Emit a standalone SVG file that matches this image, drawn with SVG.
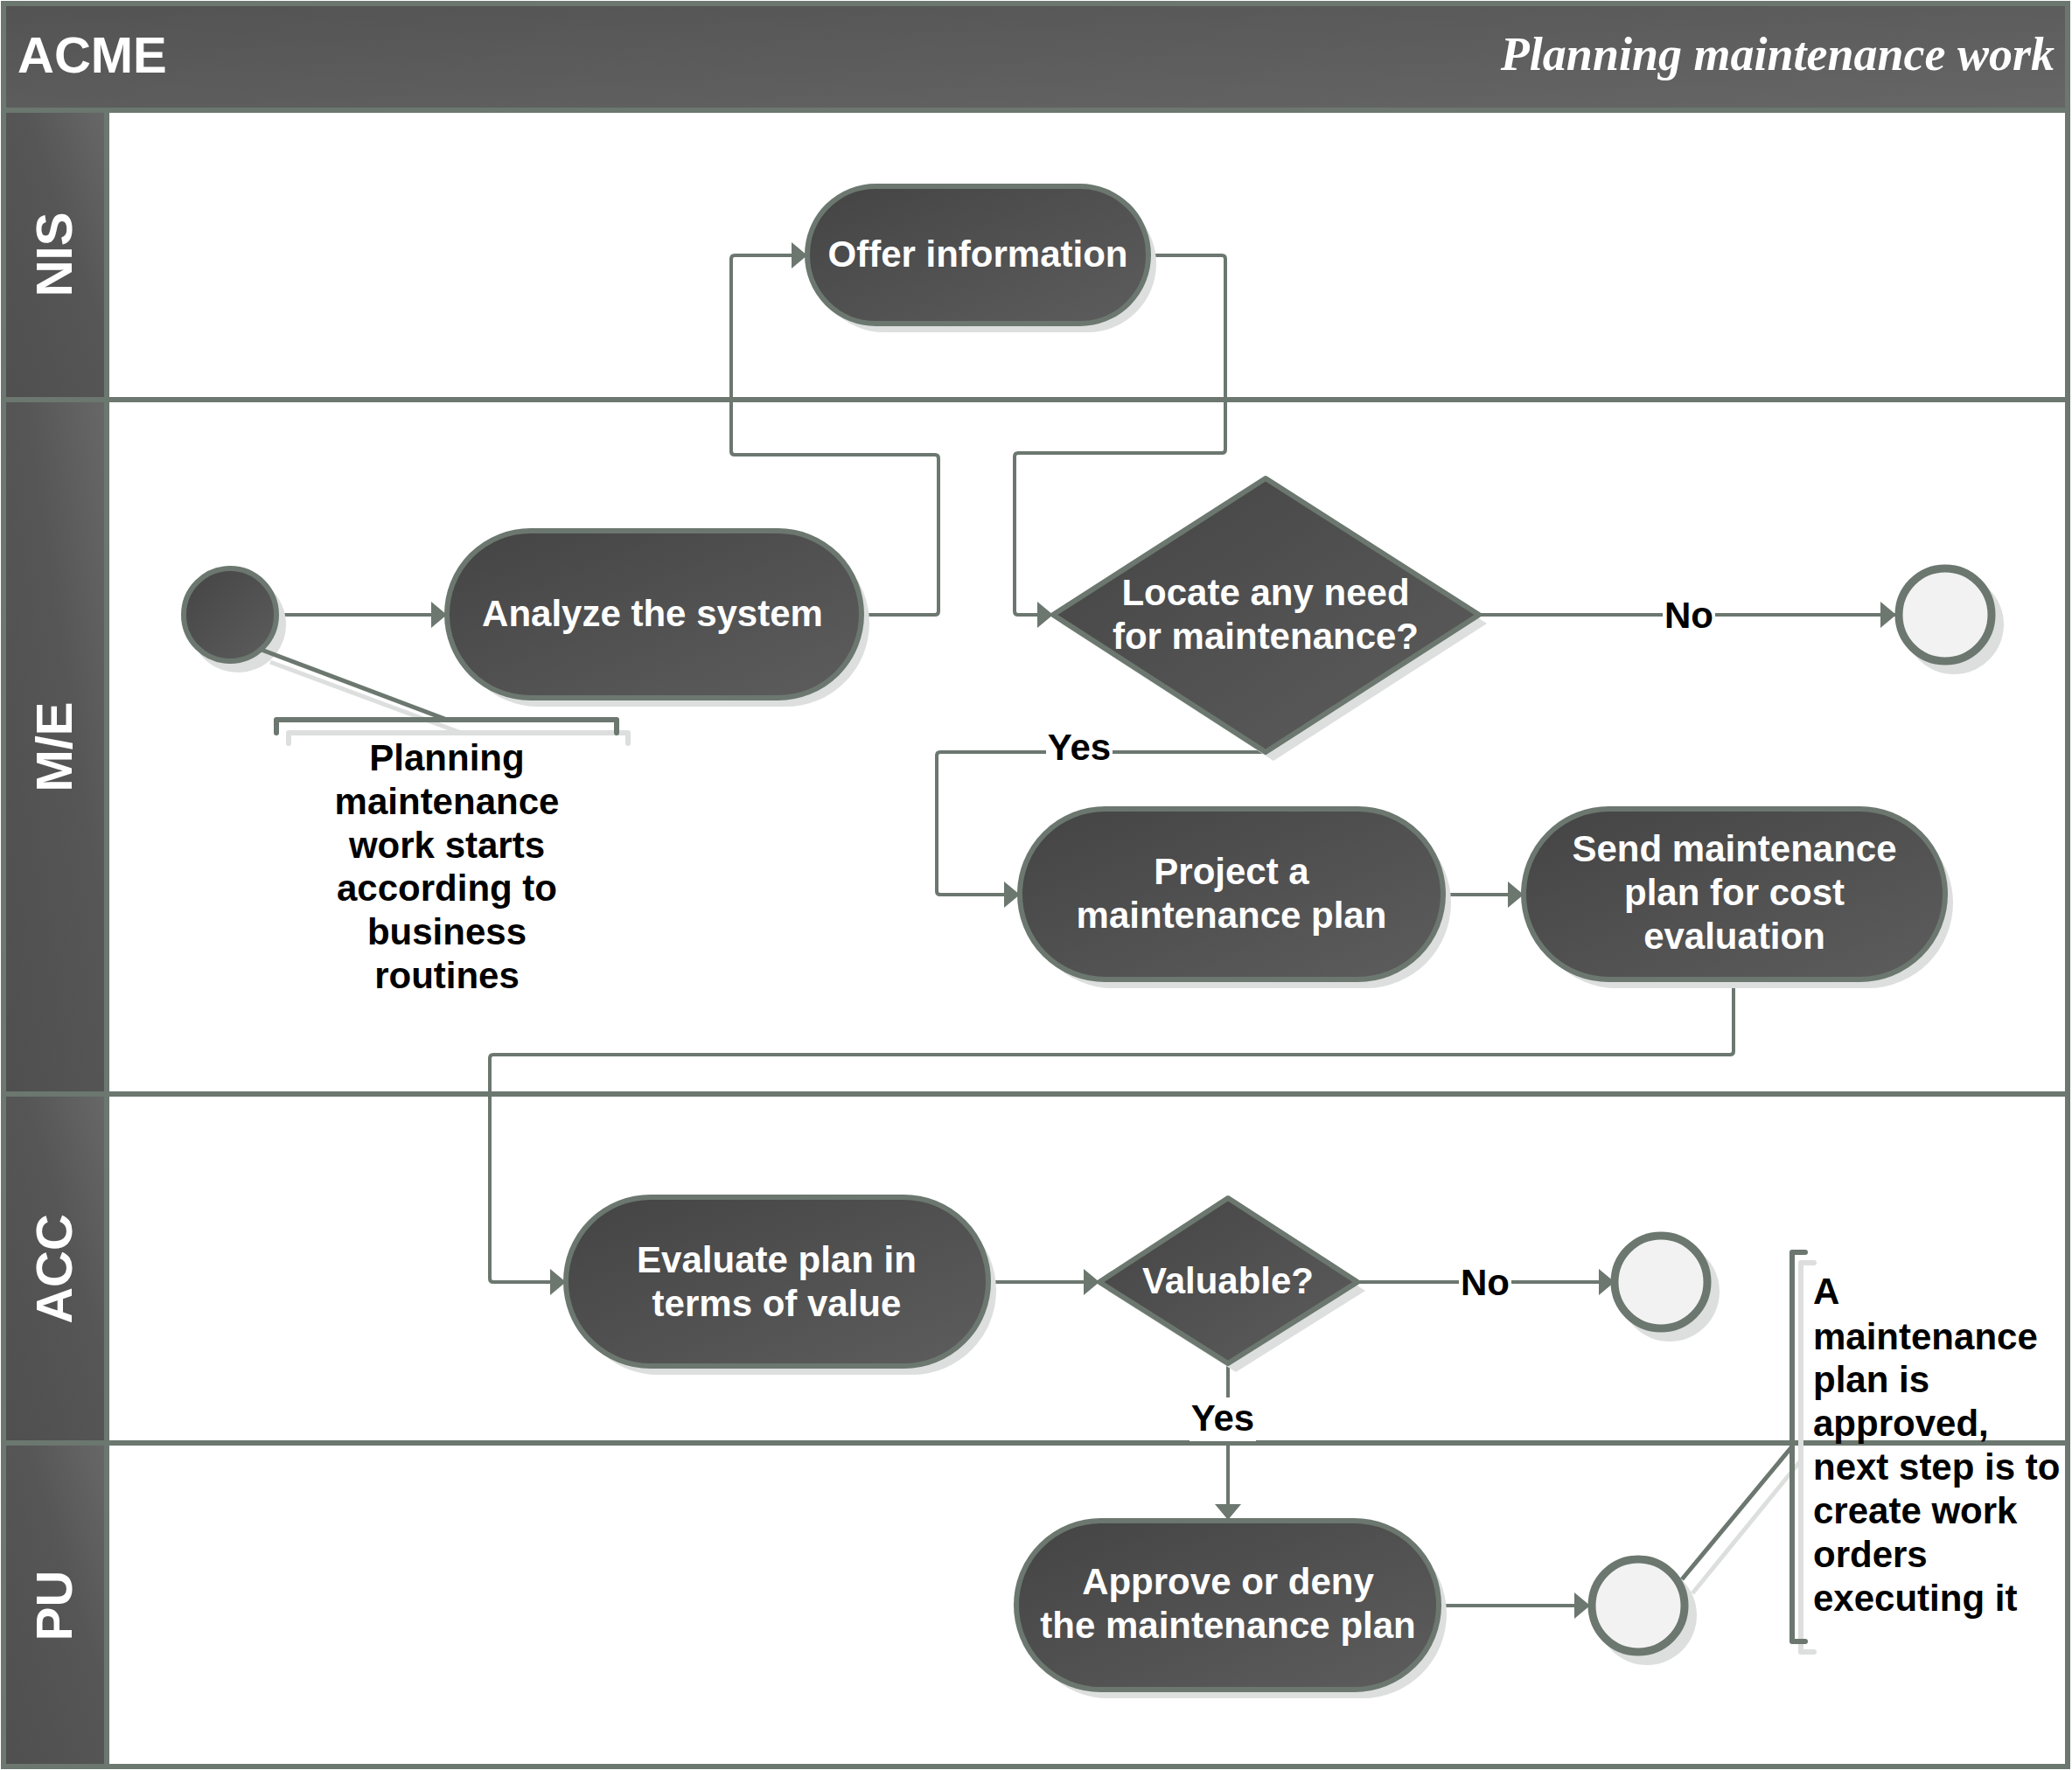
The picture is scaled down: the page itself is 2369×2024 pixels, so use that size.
<svg xmlns="http://www.w3.org/2000/svg" width="2369" height="2024" viewBox="0 0 2369 2024">
<defs>
<linearGradient id="gDark" x1="0" y1="0" x2="1" y2="1">
<stop offset="0" stop-color="#444444"/>
<stop offset="1" stop-color="#5d5d5d"/>
</linearGradient>
<linearGradient id="gBar" x1="0" y1="0" x2="1" y2="1">
<stop offset="0" stop-color="#535353"/>
<stop offset="1" stop-color="#666666"/>
</linearGradient>
<linearGradient id="gLane" x1="0" y1="1" x2="1" y2="0">
<stop offset="0" stop-color="#4f4f4f"/>
<stop offset="0.6" stop-color="#565656"/>
<stop offset="1" stop-color="#686868"/>
</linearGradient>
<marker id="arr" markerUnits="userSpaceOnUse" markerWidth="18" markerHeight="30" refX="18" refY="15" orient="auto">
<path d="M0,0 L18,15 L0,30 z" fill="#6b776f"/>
</marker>
<style>
.frame{fill:none;stroke:#6b776f;stroke-width:6}
.lane{fill:url(#gLane);stroke:#6b776f;stroke-width:6}
.sep{stroke:#6b776f;stroke-width:6}
.lanelbl{font-family:"Liberation Sans",Arial,sans-serif;font-weight:bold;font-size:58px;fill:#ffffff;text-anchor:middle}
.shape{fill:url(#gDark);stroke:#6b776f;stroke-width:6;stroke-linejoin:round}
.shadow{fill:#dcdfdd}
.end{fill:#f2f2f2;stroke:#6b776f;stroke-width:9}
.ntext{font-family:"Liberation Sans",Arial,sans-serif;font-weight:bold;font-size:42px;fill:#ffffff;text-anchor:middle}
.conn{fill:none;stroke:#6b776f;stroke-width:4;stroke-linejoin:round}
.lbl{font-family:"Liberation Sans",Arial,sans-serif;font-weight:bold;font-size:42px;fill:#000000;text-anchor:middle}
.note{font-family:"Liberation Sans",Arial,sans-serif;font-weight:bold;font-size:42px;fill:#000000}
.brk{fill:none;stroke:#6b776f;stroke-width:6;stroke-linecap:round;stroke-linejoin:round}
.brks{fill:none;stroke:#dcdfdd;stroke-width:6;stroke-linecap:round;stroke-linejoin:round}
</style>
</defs>
<rect x="0" y="0" width="2369" height="2024" fill="#ffffff"/>

<!-- title bar -->
<g id="header">
<rect x="4" y="4" width="2360" height="122" fill="url(#gBar)" stroke="#6b776f" stroke-width="6"/>
<text x="20" y="83" font-family="'Liberation Sans',Arial,sans-serif" font-weight="bold" font-size="58" fill="#ffffff">ACME</text>
<text x="2349" y="80" font-family="'Liberation Serif','Times New Roman',serif" font-style="italic" font-weight="bold" font-size="54" fill="#ffffff" text-anchor="end">Planning maintenance work</text>
</g>

<!-- lanes -->
<g id="lanes">
<rect class="lane" x="4" y="126" width="118" height="331"/>
<rect class="lane" x="4" y="457" width="118" height="794"/>
<rect class="lane" x="4" y="1251" width="118" height="399"/>
<rect class="lane" x="4" y="1650" width="118" height="370"/>
<line class="sep" x1="122" y1="457" x2="2364" y2="457"/>
<line class="sep" x1="122" y1="1251" x2="2364" y2="1251"/>
<line class="sep" x1="122" y1="1650" x2="2364" y2="1650"/>
<text class="lanelbl" transform="translate(82,291) rotate(-90)">NIS</text>
<text class="lanelbl" transform="translate(82,854) rotate(-90)">M/E</text>
<text class="lanelbl" transform="translate(82,1451) rotate(-90)">ACC</text>
<text class="lanelbl" transform="translate(82,1836) rotate(-90)">PU</text>
<rect class="frame" x="4" y="4" width="2360" height="2016"/>
</g>

<!-- connectors -->
<g id="connectors">
<path class="conn" marker-end="url(#arr)" d="M317,703 L511,703"/>
<path class="conn" marker-end="url(#arr)" d="M985,703 L1069,703 Q1073,703 1073,699 L1073,524 Q1073,520 1069,520 L840,520 Q836,520 836,516 L836,296 Q836,292 840,292 L923,292"/>
<path class="conn" marker-end="url(#arr)" d="M1313,292 L1397,292 Q1401,292 1401,296 L1401,514 Q1401,518 1397,518 L1164,518 Q1160,518 1160,522 L1160,699 Q1160,703 1164,703 L1204,703"/>
<path class="conn" marker-end="url(#arr)" d="M1691,703 L2168,703"/>
<path class="conn" marker-end="url(#arr)" d="M1447,860 L1075,860 Q1071,860 1071,864 L1071,1019 Q1071,1023 1075,1023 L1166,1023"/>
<path class="conn" marker-end="url(#arr)" d="M1650,1023 L1742,1023"/>
<path class="conn" marker-end="url(#arr)" d="M1982,1120 L1982,1202 Q1982,1206 1978,1206 L564,1206 Q560,1206 560,1210 L560,1462 Q560,1466 564,1466 L647,1466"/>
<path class="conn" marker-end="url(#arr)" d="M1130,1466 L1257,1466"/>
<path class="conn" marker-end="url(#arr)" d="M1552,1466 L1846,1466"/>
<path class="conn" marker-end="url(#arr)" d="M1404,1559 L1404,1738"/>
<path class="conn" marker-end="url(#arr)" d="M1645,1836 L1818,1836"/>
<rect x="1901" y="680" width="60" height="46" fill="#ffffff"/>
<text class="lbl" x="1931" y="718">No</text>
<rect x="1196" y="831" width="76" height="46" fill="#ffffff"/>
<text class="lbl" x="1234" y="869">Yes</text>
<rect x="1668" y="1443" width="60" height="46" fill="#ffffff"/>
<text class="lbl" x="1698" y="1481">No</text>
<rect x="1360" y="1598" width="76" height="50" fill="#ffffff"/>
<text class="lbl" x="1398" y="1636">Yes</text>
</g>

<!-- start -->
<g id="start">
<circle class="shadow" cx="272" cy="714" r="55"/>
<circle class="shape" cx="263" cy="703" r="53"/>
</g>

<g id="offer">
<rect class="shadow" x="932" y="223" width="390" height="157" rx="78.5"/>
<rect class="shape" x="923" y="213" width="390" height="157" rx="78.5"/>
<text class="ntext" x="1118" y="305">Offer information</text>
</g>

<g id="analyze">
<rect class="shadow" x="520" y="617" width="474" height="191" rx="95.5"/>
<rect class="shape" x="511" y="607" width="474" height="191" rx="95.5"/>
<text class="ntext" x="746" y="716">Analyze the system</text>
</g>

<g id="locate">
<polygon class="shadow" points="1213,713 1456,557 1700,713 1456,870"/>
<polygon class="shape" points="1204,703 1447,547 1691,703 1447,860"/>
<text class="ntext" x="1447" y="692">Locate any need</text>
<text class="ntext" x="1447" y="742">for maintenance?</text>
</g>

<g id="end1">
<circle class="shadow" cx="2234" cy="714" r="57"/>
<circle class="end" cx="2224" cy="703" r="53"/>
</g>

<g id="project">
<rect class="shadow" x="1175" y="935" width="484" height="195" rx="97.5"/>
<rect class="shape" x="1166" y="925" width="484" height="195" rx="97.5"/>
<text class="ntext" x="1408" y="1011">Project a</text>
<text class="ntext" x="1408" y="1061">maintenance plan</text>
</g>

<g id="send">
<rect class="shadow" x="1751" y="935" width="482" height="195" rx="97.5"/>
<rect class="shape" x="1742" y="925" width="482" height="195" rx="97.5"/>
<text class="ntext" x="1983" y="985">Send maintenance</text>
<text class="ntext" x="1983" y="1035">plan for cost</text>
<text class="ntext" x="1983" y="1085">evaluation</text>
</g>

<g id="evaluate">
<rect class="shadow" x="656" y="1379" width="483" height="193" rx="96.5"/>
<rect class="shape" x="647" y="1369" width="483" height="193" rx="96.5"/>
<text class="ntext" x="888" y="1455">Evaluate plan in</text>
<text class="ntext" x="888" y="1505">terms of value</text>
</g>

<g id="valuable">
<polygon class="shadow" points="1266,1476 1413,1380 1561,1476 1413,1569"/>
<polygon class="shape" points="1257,1466 1404,1370 1552,1466 1404,1559"/>
<text class="ntext" x="1404" y="1479">Valuable?</text>
</g>

<g id="end2">
<circle class="shadow" cx="1909" cy="1477" r="57"/>
<circle class="end" cx="1899" cy="1466" r="53"/>
</g>

<g id="approve">
<rect class="shadow" x="1171" y="1749" width="483" height="193" rx="96.5"/>
<rect class="shape" x="1162" y="1739" width="483" height="193" rx="96.5"/>
<text class="ntext" x="1404" y="1823">Approve or deny</text>
<text class="ntext" x="1404" y="1873">the maintenance plan</text>
</g>

<g id="end3">
<circle class="shadow" cx="1883" cy="1847" r="57"/>
<circle class="end" cx="1873" cy="1836" r="53"/>
</g>

<!-- annotation 1 -->
<g id="note1">
<line x1="309" y1="757" x2="527" y2="838" stroke="#dcdfdd" stroke-width="5"/>
<path class="brks" d="M330,850 L330,838 L718,838 L718,850"/>
<line x1="299" y1="743" x2="511" y2="823" stroke="#6b776f" stroke-width="5"/>
<path class="brk" d="M316,838 L316,823 L705,823 L705,838"/>
<text class="lbl" x="511" y="881">Planning</text>
<text class="lbl" x="511" y="931">maintenance</text>
<text class="lbl" x="511" y="981">work starts</text>
<text class="lbl" x="511" y="1030">according to</text>
<text class="lbl" x="511" y="1080">business</text>
<text class="lbl" x="511" y="1130">routines</text>
</g>

<!-- annotation 2 -->
<g id="note2">
<line x1="1935" y1="1822" x2="2059" y2="1670" stroke="#dcdfdd" stroke-width="5"/>
<path class="brks" d="M2074,1444 L2059,1444 L2059,1889 L2074,1889"/>
<line x1="1923" y1="1806" x2="2049" y2="1654" stroke="#6b776f" stroke-width="5"/>
<path class="brk" d="M2064,1432 L2049,1432 L2049,1877 L2064,1877"/>
<text class="note" x="2073" y="1491">A</text>
<text class="note" x="2073" y="1543">maintenance</text>
<text class="note" x="2073" y="1592">plan is</text>
<text class="note" x="2073" y="1642">approved,</text>
<text class="note" x="2073" y="1692">next step is to</text>
<text class="note" x="2073" y="1742">create work</text>
<text class="note" x="2073" y="1792">orders</text>
<text class="note" x="2073" y="1842">executing it</text>
</g>
</svg>
